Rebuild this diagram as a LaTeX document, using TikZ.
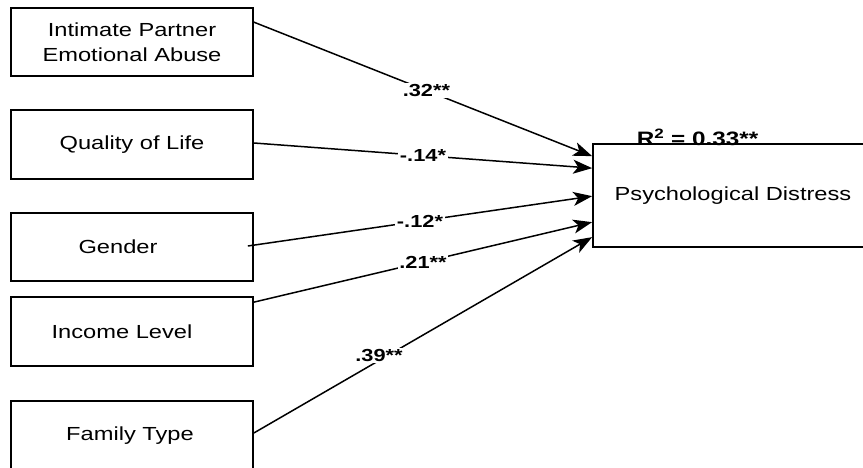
\documentclass[tikz,border=0pt]{standalone}
\usepackage{fontspec}
\setmainfont{Liberation Sans}
\usepackage{graphicx}
\usetikzlibrary{arrows.meta,calc}
\newcommand{\sx}[1]{\scalebox{1.25}[1]{#1}}
\begin{document}
\begin{tikzpicture}[x=1bp,y=-1bp,
  box/.style={draw, line width=1.7bp, minimum width=242bp, inner sep=0pt,
    font=\fontsize{19}{25}\selectfont, align=center},
  arr/.style={line width=1.5bp, -{Stealth[length=19bp,width=14bp,inset=5bp]}},
  lab/.style={fill=white, inner sep=1.5bp, font=\bfseries\fontsize{17.5}{18}\selectfont}]
\useasboundingbox (0,0) rectangle (863,468);
\clip (0,0) rectangle (863,468);
\fill[white] (0,0) rectangle (863,468);
% R-squared label
\node[anchor=base, font=\bfseries\fontsize{19.5}{20}\selectfont] (r2) at (697.5,146)
  {\sx{R\textsuperscript{2} = 0.33**}};
% boxes
\node[box, minimum height=68bp] (ipea) at (132,42) {\sx{Intimate Partner}\\\sx{Emotional Abuse}};
\node[box, minimum height=69bp] (qol) at (132,144.5) {\sx{Quality of Life}};
\node[box, minimum height=68bp] (gen) at (132,247) {\sx{Gender}\rule{28bp}{0pt}};
\node[box, minimum height=69bp] (inc) at (132,331.5) {\sx{Income Level}\rule{20bp}{0pt}};
\node[box, minimum height=70bp] (fam) at (132,436) {\sx{Family Type}\rule{4bp}{0pt}};
\node[box, minimum width=280bp, minimum height=103bp] (pd) at (733,195.5) {\sx{Psychological Distress}};
% paths
\draw[arr] ($(ipea.north east)+(0,15)$) -- node[lab, pos=0.51]{\sx{.32**}} ($(pd.north west)+(0,13)$);
\draw[arr] ($(qol.east)+(0,-1.5)$) -- node[lab, pos=0.5]{\sx{-.14*}} ($(pd.north west)+(0,25)$);
\draw[arr] ($(gen.east)+(-6,-1)$) -- node[lab, pos=0.5]{\sx{-.12*}} ($(pd.north west)+(0,53)$);
\draw[arr] ($(inc.north east)+(0,6)$) -- node[lab, pos=0.5]{\sx{.21**}} ($(pd.north west)+(0,79)$);
\draw[arr] ($(fam.east)+(0,-3)$) -- node[lab, pos=0.37, yshift=5bp]{\sx{.39**}} ($(pd.north west)+(0,94)$);
\end{tikzpicture}
\end{document}
